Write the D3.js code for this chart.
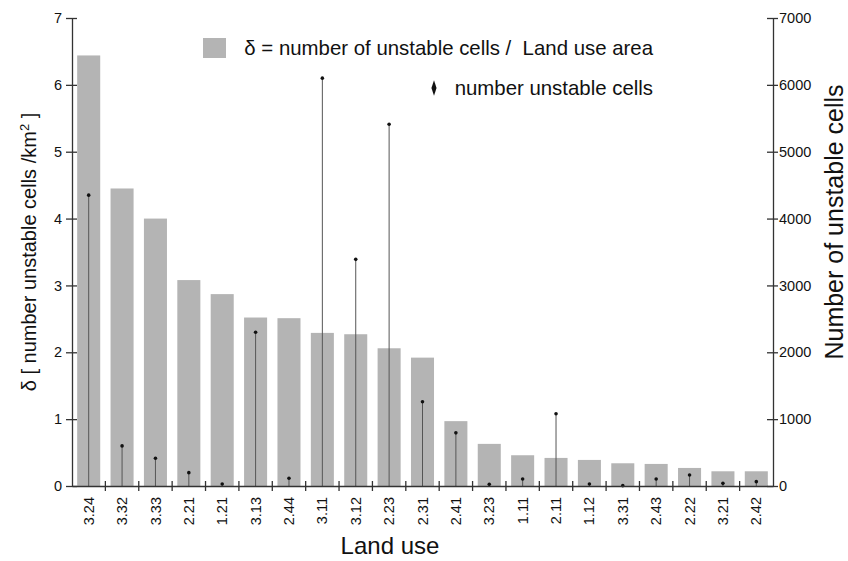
<!DOCTYPE html>
<html>
<head>
<meta charset="utf-8">
<script src="https://cdn.jsdelivr.net/npm/d3@7/dist/d3.min.js"></script>
<style>
  body { margin: 0; background: #fff; }
  svg { font-family: "Liberation Sans", Arial, sans-serif; }
</style>
</head>
<body>
<svg width="848" height="561"></svg>
<script>
var landUse = ["3.24","3.32","3.33","2.21","1.21","3.13","2.44","3.11","3.12","2.23","2.31",
               "2.41","3.23","1.11","2.11","1.12","3.31","2.43","2.22","3.21","2.42"];
var delta = [6.44, 4.45, 4.0, 3.08, 2.87, 2.52, 2.51, 2.29, 2.27, 2.06, 1.92,
             0.97, 0.63, 0.46, 0.42, 0.39, 0.34, 0.33, 0.27, 0.22, 0.22];
var unstable = [4350, 600, 415, 200, 30, 2300, 115, 6100, 3390, 5410, 1260,
                795, 25, 105, 1080, 30, 5, 105, 165, 40, 65];
var leftTicks = [0, 1, 2, 3, 4, 5, 6, 7];
var rightTicks = [0, 1000, 2000, 3000, 4000, 5000, 6000, 7000];

var plot = {left: 72, right: 773, top: 18, bottom: 486};
var svg = d3.select("svg");

// scales
var x = d3.scaleBand()
    .domain(landUse)
    .range([plot.left, plot.right])
    .paddingInner(0.31)
    .paddingOuter(0.155);

var y = d3.scaleLinear().domain([0, 7]).range([plot.bottom, plot.top]);
var y2 = d3.scaleLinear().domain([0, 7000]).range([plot.bottom, plot.top]);

// bars
svg.append("g").selectAll("rect")
    .data(delta)
  .enter().append("rect")
    .attr("x", (d, i) => x(landUse[i]))
    .attr("y", d => y(d))
    .attr("width", x.bandwidth())
    .attr("height", d => y(0) - y(d))
    .attr("fill", "#b4b4b4");

// stems for unstable cells
var stems = svg.append("g");
stems.selectAll("line")
    .data(unstable)
  .enter().append("line")
    .attr("x1", (d, i) => x(landUse[i]) + x.bandwidth() / 2)
    .attr("x2", (d, i) => x(landUse[i]) + x.bandwidth() / 2)
    .attr("y1", y2(0))
    .attr("y2", d => y2(d))
    .attr("stroke", "#555")
    .attr("stroke-width", 1);
stems.selectAll("circle")
    .data(unstable)
  .enter().append("circle")
    .attr("cx", (d, i) => x(landUse[i]) + x.bandwidth() / 2)
    .attr("cy", d => y2(d))
    .attr("r", 1.8)
    .attr("fill", "#111");

// axes
var axisColor = "#333";
var leftAxis = svg.append("g")
    .attr("transform", `translate(${plot.left},0)`)
    .call(d3.axisLeft(y).tickValues(leftTicks).tickFormat(d3.format("d")).tickSize(5).tickSizeOuter(0));
leftAxis.selectAll(".tick line").attr("x2", 5).attr("x1", -6);
leftAxis.selectAll(".tick text").attr("x", -10);

var rightAxis = svg.append("g")
    .attr("transform", `translate(${plot.right},0)`)
    .call(d3.axisRight(y2).tickValues(rightTicks).tickFormat(d3.format("d")).tickSize(5).tickSizeOuter(0));
rightAxis.selectAll(".tick line").attr("x1", -6).attr("x2", 5);
rightAxis.selectAll(".tick text").attr("x", 6);

var bottomAxis = svg.append("g")
    .attr("transform", `translate(0,${plot.bottom})`)
    .call(d3.axisBottom(x).tickSize(0).tickSizeOuter(0));
bottomAxis.selectAll(".tick text")
    .attr("transform", "rotate(-90)")
    .attr("text-anchor", "end")
    .attr("x", -11)
    .attr("y", 0)
    .attr("dy", "0.35em");
// separators between categories
bottomAxis.selectAll(".sep")
    .data(landUse.slice(1))
  .enter().append("line")
    .attr("class", "sep")
    .attr("x1", d => x(d) - x.step() * x.paddingInner() / 2)
    .attr("x2", d => x(d) - x.step() * x.paddingInner() / 2)
    .attr("y1", -5)
    .attr("y2", 5);

svg.selectAll(".domain, .tick line, .sep").attr("stroke", axisColor).attr("stroke-width", 1.3);
svg.selectAll(".tick text").attr("font-size", 14.5).attr("fill", "#111")
    .attr("font-family", "Liberation Sans, Arial, sans-serif");

// axis titles
svg.append("text")
    .attr("transform", "translate(36,252) rotate(-90)")
    .attr("text-anchor", "middle")
    .attr("font-size", 20)
    .attr("fill", "#111")
    .call(t => {
      t.append("tspan").text("δ [ number unstable cells /km");
      t.append("tspan").attr("baseline-shift", "super").attr("font-size", 13).text("2");
      t.append("tspan").text(" ]");
    });

svg.append("text")
    .attr("transform", "translate(843,222) rotate(-90)")
    .attr("text-anchor", "middle")
    .attr("font-size", 25)
    .attr("fill", "#111")
    .text("Number of unstable cells");

svg.append("text")
    .attr("x", 390)
    .attr("y", 554)
    .attr("text-anchor", "middle")
    .attr("font-size", 24)
    .attr("fill", "#111")
    .text("Land use");

// legend
var legend = svg.append("g");
legend.append("rect")
    .attr("x", 203).attr("y", 38)
    .attr("width", 23).attr("height", 20)
    .attr("fill", "#b4b4b4");
legend.append("text")
    .attr("x", 653).attr("y", 55)
    .attr("text-anchor", "end")
    .attr("font-size", 20.4)
    .attr("fill", "#111")
    .attr("xml:space", "preserve")
    .text("δ = number of unstable cells /  Land use area");
legend.append("path")
    .attr("d", d3.symbol(d3.symbolDiamond, 40))
    .attr("transform", "translate(434,88) scale(0.75,1.3)")
    .attr("fill", "#111");
legend.append("text")
    .attr("x", 653).attr("y", 95)
    .attr("text-anchor", "end")
    .attr("font-size", 20.4)
    .attr("fill", "#111")
    .text("number unstable cells");
</script>
</body>
</html>
